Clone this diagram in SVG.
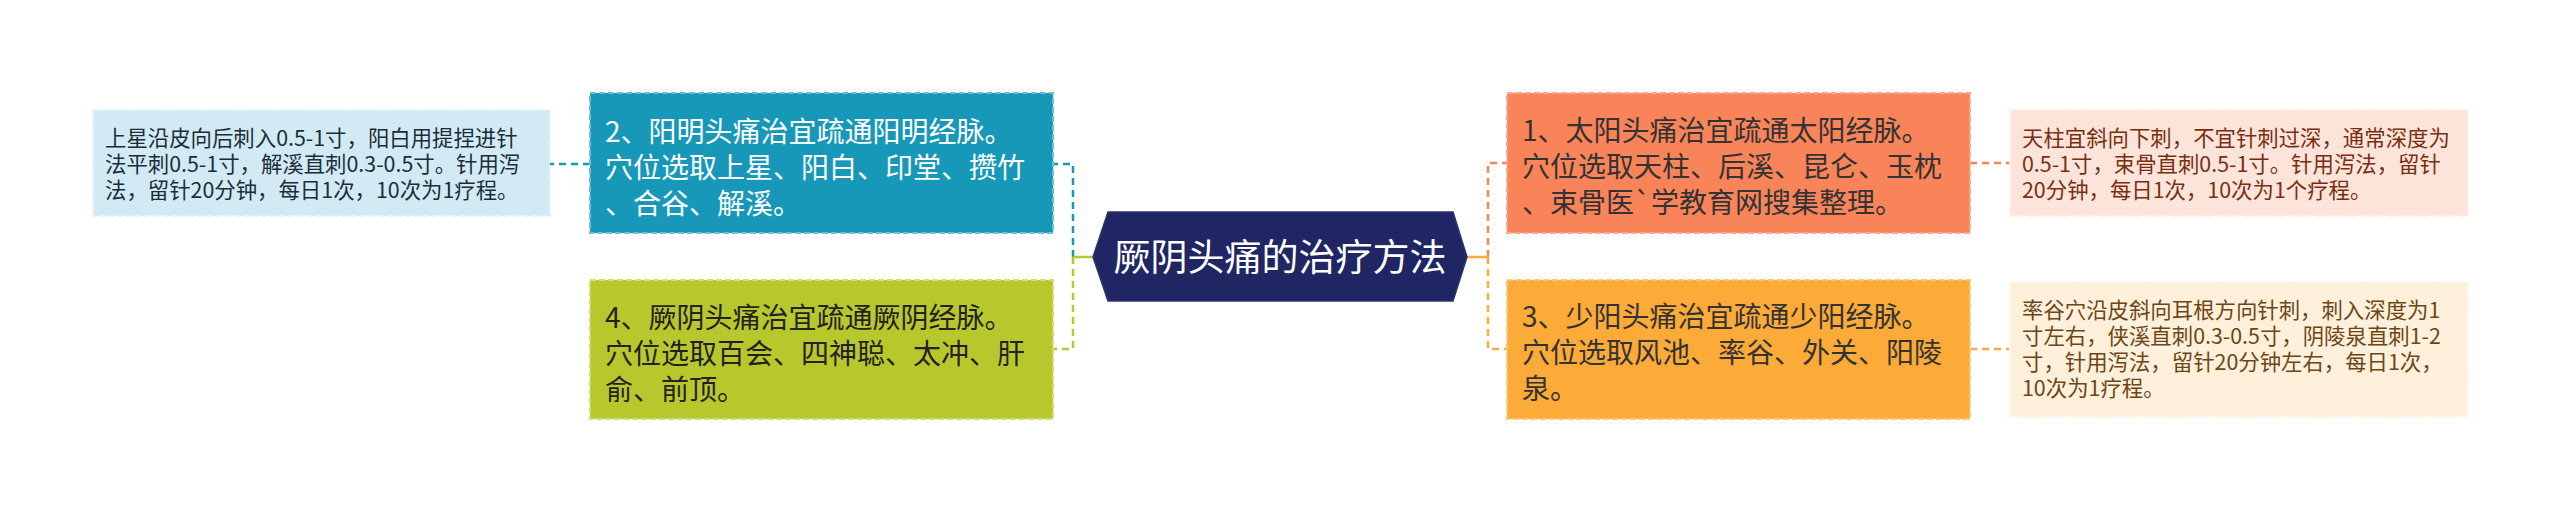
<svg xmlns="http://www.w3.org/2000/svg" width="2560" height="513" viewBox="0 0 2560 513">
<style>
text{font-family:"Noto Sans CJK SC","Noto Sans",sans-serif}
.node{font-size:28px}
.leaf{font-size:21.4px}
.center{font-size:37px;fill:#ffffff}
.box{stroke-width:2;stroke-dasharray:6 3}
.con{fill:none;stroke-width:2.5;stroke-dasharray:7 5}
.stub{fill:none;stroke-width:2.5}
</style>
<rect width="2560" height="513" fill="#ffffff"/>
<g id="connectors">
<path class="con" d="M1073,257 V164 H1053" stroke="#1898B9"/>
<path class="con" d="M590,164 H550" stroke="#1898B9"/>
<path class="con" d="M1073,257 V349 H1053" stroke="#B8C82C"/>
<path class="stub" d="M1093,257 H1073" stroke="#B8C82C"/>
<path class="con" d="M1488,257 V163 H1507" stroke="#F9845A"/>
<path class="con" d="M1488,257 V349 H1507" stroke="#FCAA38"/>
<path class="stub" d="M1467,257 H1488" stroke="#FCAA38"/>
<path class="con" d="M1970,163 H2010" stroke="#F9845A"/>
<path class="con" d="M1970,349 H2010" stroke="#FCAA38"/>
</g>
<g id="center">
<polygon points="1093,257 1108,212 1453,212 1467,257 1453,301 1108,301" fill="#202663" stroke="#2c3372" stroke-width="1.5"/>
<text class="center" x="1280" y="270.5" text-anchor="middle">厥阴头痛的治疗方法</text>
</g>
<g id="node1">
<rect class="box" x="1507" y="93" width="463" height="140" fill="#F9845A" stroke="#FBA98A"/>
<text class="node" fill="#333333"><tspan x="1522" y="141">1、太阳头痛治宜疏通太阳经脉。</tspan><tspan x="1522" y="177">穴位选取天柱、后溪、昆仑、玉枕</tspan><tspan x="1522" y="213">、束骨医`学教育网搜集整理。</tspan></text>
</g>
<g id="node3">
<rect class="box" x="1507" y="280" width="463" height="139" fill="#FCAA38" stroke="#FDC77A"/>
<text class="node" fill="#333333"><tspan x="1522" y="327">3、少阳头痛治宜疏通少阳经脉。</tspan><tspan x="1522" y="363">穴位选取风池、率谷、外关、阳陵</tspan><tspan x="1522" y="399">泉。</tspan></text>
</g>
<g id="node2">
<rect class="box" x="590" y="93" width="463" height="140" fill="#1898B9" stroke="#6FBFD4"/>
<text class="node" fill="#ffffff"><tspan x="605" y="142">2、阳明头痛治宜疏通阳明经脉。</tspan><tspan x="605" y="178">穴位选取上星、阳白、印堂、攒竹</tspan><tspan x="605" y="214">、合谷、解溪。</tspan></text>
</g>
<g id="node4">
<rect class="box" x="590" y="280" width="463" height="139" fill="#B8C82C" stroke="#D2DC74"/>
<text class="node" fill="#222222"><tspan x="605" y="328">4、厥阴头痛治宜疏通厥阴经脉。</tspan><tspan x="605" y="364">穴位选取百会、四神聪、太冲、肝</tspan><tspan x="605" y="400">俞、前顶。</tspan></text>
</g>
<g id="leaf2">
<rect class="box" x="93" y="110" width="457" height="106" fill="#D2EAF3" stroke="#E6F3F8"/>
<text class="leaf" fill="#1C2D3A"><tspan x="105" y="145.5">上星沿皮向后刺入0.5-1寸，阳白用提捏进针</tspan><tspan x="105" y="171.5">法平刺0.5-1寸，解溪直刺0.3-0.5寸。针用泻</tspan><tspan x="105" y="197.5">法，留针20分钟，每日1次，10次为1疗程。</tspan></text>
</g>
<g id="leaf1">
<rect class="box" x="2010" y="110" width="458" height="106" fill="#FCE4DB" stroke="#FEF1EC"/>
<text class="leaf" fill="#7A2E0E"><tspan x="2022" y="145.5">天柱宜斜向下刺，不宜针刺过深，通常深度为</tspan><tspan x="2022" y="171.5">0.5-1寸，束骨直刺0.5-1寸。针用泻法，留针</tspan><tspan x="2022" y="197.5">20分钟，每日1次，10次为1个疗程。</tspan></text>
</g>
<g id="leaf3">
<rect class="box" x="2010" y="282" width="458" height="135" fill="#FEF0DB" stroke="#FFF7EC"/>
<text class="leaf" fill="#6E4514"><tspan x="2022" y="317.5">率谷穴沿皮斜向耳根方向针刺，刺入深度为1</tspan><tspan x="2022" y="343.5">寸左右，侠溪直刺0.3-0.5寸，阴陵泉直刺1-2</tspan><tspan x="2022" y="369.5">寸，针用泻法，留针20分钟左右，每日1次，</tspan><tspan x="2022" y="395.5">10次为1疗程。</tspan></text>
</g>
</svg>
